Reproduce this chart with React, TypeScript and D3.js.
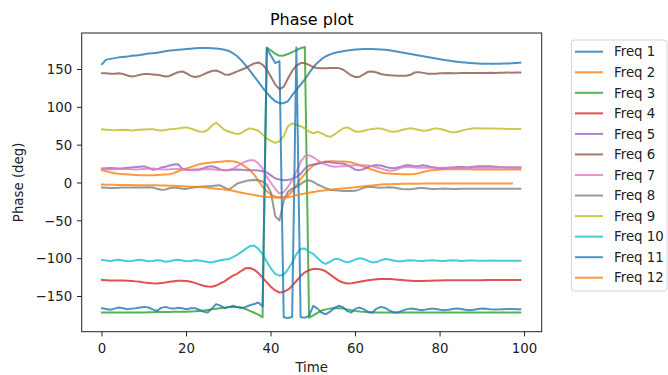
import React from "react";
import * as d3 from "d3";

const seriesNames = ["Freq 1","Freq 2","Freq 3","Freq 4","Freq 5","Freq 6","Freq 7","Freq 8","Freq 9","Freq 10","Freq 11","Freq 12"];
const xTicks = [0, 20, 40, 60, 80, 100];
const yTicks = [-150, -100, -50, 0, 50, 100, 150];

const freq1 = [
157,163,164,165,166,166.5,167,168,168.5,169,
170,171,171.5,172,173,174,175,175.5,176,176.5,
177,177.5,178,178.4,178.5,178.5,178.2,177.8,177,176,
174.5,171.5,167.5,162,155.5,148.5,141,133.5,126,119,
113,108,105.5,105.5,108,116,123,130,137,145,
153,159,164,167.5,170,171.8,173,174,175,175.8,
176.3,176.7,177,177,177,176.8,176.5,176,175.5,174.5,
173.5,172.5,171.5,170.5,169.5,168.5,167.5,166.5,165.5,164.5,
163.5,162.5,161.8,161,160.3,159.7,159.2,158.7,158.3,158,
157.7,157.6,157.5,157.5,157.6,157.8,158,158.3,158.6,159];

const freq2 = [
16.9,15.5,14,13,12.2,11.7,11.5,11,10.6,10.3,
10.2,10.2,10.3,10.5,10.8,11.2,11.5,13,15.5,17.5,
19.1,21,23,24.8,25.8,26.5,27.1,27.6,28.2,28.8,
29.2,28.8,27.5,25,21,17,11,3,-5,-11,
-15.5,-18,-19,-19,-17,-11,-3,5,12,18,
23,26,27.5,28.5,28.8,28.8,28.5,28.3,28,27,
25.5,23.5,21.5,19.5,17.5,15.5,14,13,12.5,12,
11.8,11.5,11.5,11.5,11.8,13,14.5,16,16.9,17.3,
17.7,18,18.2,18.2,18.2,18.1,18,18,17.9,17.9,
17.8,17.8,17.8,17.8,17.8,17.8,17.8,17.8,17.8,17.8];

const freq3 = [
-171.2,-171.2,-171.1,-171.1,-171,-171,-171,-171,-171,-171,
-171,-170.8,-170.7,-170.6,-170.5,-170.5,-170.4,-170.3,-170.2,-170.1,
-170,-169.8,-169.5,-169,-168.5,-167.8,-167,-166.3,-165.5,-164.7,
-164,-163.7,-163.7,-164.5,-166.5,-169,-171.5,-174,-177.5,179,
175,171,168,168.5,170.5,173,175.5,178,179.8,-178,
-175,-171.5,-168.5,-167,-166,-165.5,-165.5,-166,-167,-168,
-169,-169.8,-170.3,-170.7,-171,-171.2,-171.2,-171.2,-171.2,-171.2,
-171.2,-171.2,-171.2,-171.2,-171.2,-171.2,-171.2,-171.2,-171.2,-171.2,
-171.2,-171.2,-171.2,-171.2,-171.2,-171.2,-171.2,-171.2,-171.2,-171.2,
-171.2,-171.2,-171.2,-171.2,-171.2,-171.2,-171.2,-171.2,-171.2,-171.2];

const freq4 = [
-128.3,-128.5,-129,-129,-128.8,-129,-129.2,-129.5,-130,-130.5,
-131.5,-132,-132.5,-132.7,-132.3,-131.5,-130.5,-129.8,-129.3,-129.2,
-129.5,-130.5,-132,-134,-135.8,-136.8,-137,-135.5,-132.5,-130,
-126,-122.5,-120,-116,-112.5,-112.3,-114.5,-119,-125,-131.4,
-137.5,-142,-144.7,-144,-141,-136,-129.5,-123,-118,-115,
-113.7,-113.5,-114.5,-117,-121,-125,-129,-131.5,-132.7,-132.5,
-131.5,-130.5,-129.5,-128.5,-127.8,-127.3,-127,-127,-127,-127.3,
-127.8,-128.3,-128.8,-129.2,-129.5,-129.5,-129.5,-129.3,-129.2,-129,
-128.8,-128.6,-128.5,-128.5,-128.5,-128.6,-128.6,-128.5,-128.5,-128.4,
-128.4,-128.3,-128.3,-128.3,-128.3,-128.3,-128.3,-128.3,-128.3,-128.3];

const freq5 = [
19.1,19.5,19.8,19.5,19.2,19.5,20,20.5,21,21.5,
22,20,17.5,18,20.4,21.5,23,24.5,24.8,19,
17.2,17.5,17.8,17.8,19.5,21.5,22.2,20.5,18,16.9,
17,17.5,17.8,17.5,17,16.9,16.9,16.5,15.5,14,
10,6,4.5,3.6,3.8,5.5,8,12,19,23,
24.5,25.5,26.5,27.9,27.5,26.5,26,25.8,24,20.5,
17.5,17,18.5,21,23,23.5,23,21.5,20,19.5,
20.5,22,23.5,23.5,22,22.5,23.5,22.5,21,20,
19.1,19.5,20,20.5,21,21,20.8,21,21.5,22,
22.2,22.2,22,21.5,21,20.8,20.6,20.5,20.4,20.4];

const freq6 = [
145,145,144.5,144.5,145,144,142,140.7,141.5,143,
144,144,143.5,143,142,140.7,141.5,144,146.5,147.4,
145,141.5,140,141,143.5,146,148,148.7,146.5,143.5,
143,145,147.5,149.6,152,155,158,159.3,156.5,150,
140,130,124,127,138,148,155,158.5,158.5,156,
153,151.8,151.5,151.5,151.8,152,151.8,150,146,142,
140,140.5,144,147,147.4,146,144,143,142.5,142,
141.6,141.6,141.6,143,146,146.5,145.5,144.5,144.3,144.5,
145,145,145.2,145,145,145.2,145.2,145.5,145.5,145.3,
145.5,145.5,145.8,145.5,145.7,145.8,146,145.8,146,146];

const freq7 = [
18.4,18,17.8,18,18.5,18.8,18.5,18,17.8,18,
18.5,19,19,18.5,18,17.8,18,18.5,18.5,18,
17.5,17,17,17.5,18,18.5,18,17.5,17,16.9,
17.5,19,22,25.5,28.5,30,30.1,26,19,8,
0,-8,-14.1,-12,-5,3.6,15,28,35.5,36.8,
34,30.1,26.5,24.5,22.5,21.5,21.8,22.2,22.5,23,
23.3,23.5,23.5,23,22,20.5,19,17.5,16.3,16.5,
18.5,20.5,21.2,21,20.5,20,20,20.2,20.3,20.2,
20,20,20,20,19.8,19.8,19.8,19.9,20,20.1,
20.2,20.2,20.3,20.3,20.4,20.4,20.4,20.4,20.4,20.4];

const freq8 = [
-6.1,-6.3,-6.5,-6.5,-6.3,-6.1,-6,-6,-6.1,-6.1,
-6.1,-5.5,-5.8,-7.5,-8.8,-8.5,-7,-6,-6.5,-7.5,
-7.8,-6.5,-5.5,-5,-4.7,-4.4,-4,-3.3,-3.1,-6,
-8.8,-5,-0.8,1,2.5,3.6,3.8,3.6,2,-2,
-13,-44,-49.5,-23.7,-11.7,-7.5,-5.3,-1.5,2.5,3.6,
1.5,-2,-4.5,-7,-8.8,-9.5,-10,-10.5,-10.6,-10.6,
-10.4,-8.5,-6,-5.3,-5.4,-5.8,-6.2,-6,-5.6,-6,
-7,-8,-8.4,-8.4,-7.5,-6.5,-6.5,-7.2,-8,-8,
-7.5,-7.3,-7.5,-7.8,-7.8,-7.6,-7.5,-7.5,-7.5,-7.5,
-7.5,-7.5,-7.5,-7.5,-7.5,-7.5,-7.5,-7.5,-7.5,-7.5];

const freq9 = [
70.9,70.5,70,69.8,70,70.2,70,69.5,70,70.5,
70.8,71,70.9,70,69.5,70,71,71.5,72,73,
73.5,72,70,68,67.7,70,76,79.7,75,70,
68,66,64.6,66,70,72.2,71,69,64,59,
55.5,53.1,55,62,75,78.8,77,75,72,68,
65.6,67.7,65.5,62.5,61,64,68,72,73.5,71,
68,67.7,69,70.5,71.5,72,72,70.5,68.5,67.7,
68.5,70,71.5,72.2,71.5,70,69,69.5,71,72.2,
71.5,70,68,66.9,67.5,69,70.5,71.5,72.2,72.2,
72,72,72,72,71.8,71.6,71.5,71.4,71.3,71.3];

const freq10 = [
-101.7,-102.5,-103,-102,-101.5,-102.5,-103.5,-103,-102,-101.5,
-102.5,-103.5,-103,-102,-102.5,-104,-103.5,-102,-101.5,-102.5,
-103.5,-103,-102,-102.5,-103.5,-104.5,-104.9,-103.5,-102,-101,
-100.4,-98,-95,-91,-87,-83.5,-82.7,-87,-94,-104,
-113,-120,-122.5,-121,-114,-105,-94,-87,-86.5,-91,
-93.7,-99,-104.5,-107,-104,-100.4,-100.5,-103,-104.9,-103.5,
-101,-99.5,-100.5,-103,-104.9,-104.5,-102,-100.4,-101,-102.5,
-103.5,-103.5,-102.5,-102,-102.5,-103,-103,-102.5,-102,-102.5,
-103,-103,-102.5,-102,-102.5,-103,-102.8,-102.5,-102.5,-102.8,
-102.8,-102.6,-102.5,-102.6,-102.7,-102.7,-102.6,-102.6,-102.6,-102.6];

const freq11 = [
-165.4,-166.5,-167.5,-166,-164.6,-165.5,-166.7,-166,-165.4,-164.5,
-163.7,-164.5,-167,-169,-165,-163.7,-165.4,-166,-165,-165.5,
-166.7,-165.5,-165.4,-167.5,-170,-171.2,-166,-160,-162,-165.4,
-164,-162.3,-164,-165.4,-163.7,-161.5,-160,-158,-163,178,
168,158.5,161,-177.5,-178.5,-177,179,-177,-178,-175.6,
-162.3,-166,-171.5,-173.4,-170,-165,-162.3,-164,-169,-171.2,
-166,-164.6,-167,-170.5,-171,-166,-163.7,-165,-168.5,-171,
-171.2,-169,-167,-166,-166.5,-167.5,-168,-166.7,-166,-166.5,
-167.5,-168,-167.5,-166.5,-166,-166.5,-167.5,-168,-167.5,-166.5,
-166,-166.3,-167,-167.3,-167,-166.7,-166.5,-166.5,-166.7,-166.7];

const freq12 = [
-2.1,-2.2,-2.3,-2.4,-2.5,-2.6,-2.7,-2.8,-2.9,-3,
-3,-3,-3.1,-3.1,-3.2,-3.4,-3.6,-3.8,-4,-4.3,
-4.6,-4.9,-5.1,-5.3,-5.7,-6.2,-6.8,-7.5,-8.1,-8.6,
-9.3,-10.3,-11.5,-12.8,-14,-15,-16,-17,-17.8,-18.5,
-19,-19.3,-19.4,-19.3,-18.8,-17.8,-16.2,-14.8,-13.8,-12.8,
-11.8,-10.9,-10.2,-9.5,-8.9,-8.3,-7.7,-7.2,-6.7,-6.2,
-5.6,-5,-4.4,-3.8,-3.2,-2.5,-2,-1.7,-1.5,-1.3,
-1.2,-1.1,-1,-1,-0.9,-0.9,-0.8,-0.8,-0.8,-0.8,
-0.8,-0.8,-0.8,-0.8,-0.8,-0.8,-0.8,-0.8,-0.8,-0.8,
-0.8,-0.8,-0.8,-0.8,-0.8,-0.8,-0.8,-0.8];

const seriesValues = [freq1, freq2, freq3, freq4, freq5, freq6, freq7, freq8, freq9, freq10, freq11, freq12];
const colors = ["#1f77b4","#ff7f0e","#2ca02c","#d62728","#9467bd","#8c564b","#e377c2","#7f7f7f","#bcbd22","#17becf","#1f77b4","#ff7f0e"];

const W = 668, H = 375;
const plot = { left: 81.7, right: 541.7, top: 33, bottom: 331.7 };
const FONT = "DejaVu Sans";

export default function App() {
  const x = d3.scaleLinear().domain([-4.8, 104.05]).range([plot.left, plot.right]);
  const y = d3.scaleLinear().domain([-196.5, 198.2]).range([plot.bottom, plot.top]);
  const line = d3.line<number>().x((_, i) => x(i)).y((d) => y(d));
  const tickColor = "#222";
  const legendX = 571.4, legendY = 40, legendW = 95.6, legendH = 251;
  const rowH = 20.55;
  return (
    <svg width={W} height={H} style={{ position: "absolute", left: 0, top: 0, background: "#fff" }} fontFamily={FONT}>
      <rect x={0} y={0} width={W} height={H} fill="#fff" />
      <text x={(plot.left + plot.right) / 2} y={25} textAnchor="middle" fontSize={16} fill="#000">Phase plot</text>
      <defs>
        <clipPath id="clip"><rect x={plot.left} y={plot.top} width={plot.right - plot.left} height={plot.bottom - plot.top} /></clipPath>
      </defs>
      <g clipPath="url(#clip)">
        {seriesValues.map((vals, k) => (
          <path key={k} d={line(vals) || ""} fill="none" stroke={colors[k]} strokeWidth={2} strokeOpacity={0.8} strokeLinejoin="round" strokeLinecap="square" />
        ))}
      </g>
      <rect x={plot.left} y={plot.top} width={plot.right - plot.left} height={plot.bottom - plot.top} fill="none" stroke={tickColor} strokeWidth={1} />
      {xTicks.map((t) => (
        <g key={"x" + t}>
          <line x1={x(t)} x2={x(t)} y1={plot.bottom} y2={plot.bottom + 4.7} stroke={tickColor} strokeWidth={1} />
          <text x={x(t)} y={353} textAnchor="middle" fontSize={13.33} fill="#222">{String(t)}</text>
        </g>
      ))}
      {yTicks.map((t) => (
        <g key={"y" + t}>
          <line x1={plot.left - 4.7} x2={plot.left} y1={y(t)} y2={y(t)} stroke={tickColor} strokeWidth={1} />
          <text x={plot.left - 9.5} y={y(t) + 4.8} textAnchor="end" fontSize={13.33} fill="#222">{t < 0 ? "\u2212" + Math.abs(t) : String(t)}</text>
        </g>
      ))}
      <text x={(plot.left + plot.right) / 2} y={371.5} textAnchor="middle" fontSize={13.33} fill="#222">Time</text>
      <text transform={`translate(23,${(plot.top + plot.bottom) / 2}) rotate(-90)`} textAnchor="middle" fontSize={13.33} fill="#222">Phase (deg)</text>
      <rect x={legendX} y={legendY} width={legendW} height={legendH} rx={3} ry={3} fill="#fff" fillOpacity={0.8} stroke="#d5d5d5" strokeWidth={1} />
      {seriesNames.map((name, k) => {
        const cy = 51.7 + k * rowH;
        return (
          <g key={name}>
            <line x1={575} x2={603} y1={cy} y2={cy} stroke={colors[k]} strokeWidth={2} strokeOpacity={0.8} />
            <text x={614} y={cy + 4.7} fontSize={13.33} fill="#222">{name}</text>
          </g>
        );
      })}
    </svg>
  );
}
